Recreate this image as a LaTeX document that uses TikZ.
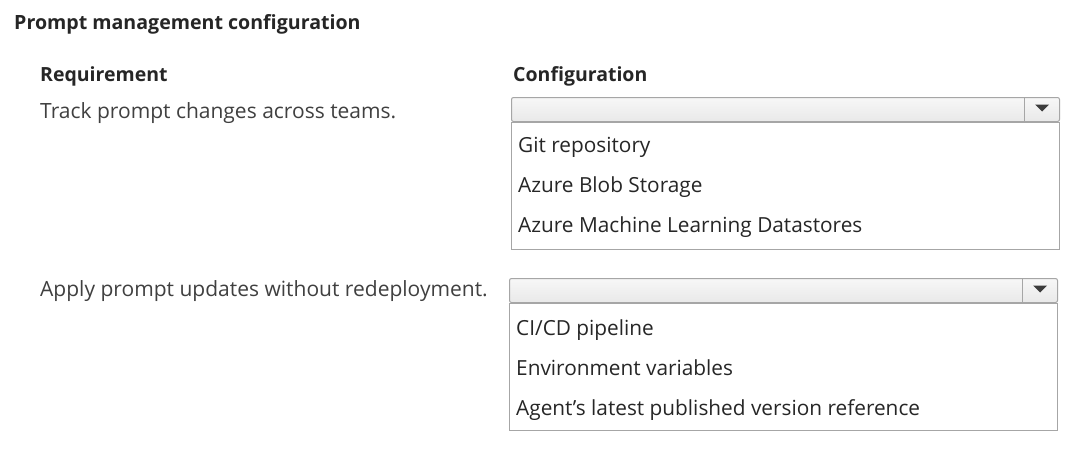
\documentclass[tikz,border=0pt]{standalone}
\usepackage{fontspec}
\setmainfont{Open Sans}
\usetikzlibrary{positioning}
\definecolor{textDark}{HTML}{262626}
\definecolor{textBody}{HTML}{404040}
\definecolor{boxLine}{HTML}{A6A6A6}
\definecolor{headTop}{HTML}{F7F7F7}
\definecolor{headBot}{HTML}{E9E9E9}
\definecolor{arrowGray}{HTML}{3C3C3C}

\begin{document}
\begin{tikzpicture}
[x=1pt,y=-1pt,
  titleText/.style={anchor=base west,inner sep=0pt,text=textDark,
    font=\fontsize{19.6}{23}\selectfont\bfseries},%
  headText/.style={anchor=base west,inner sep=0pt,text=textDark,
    font=\fontsize{19.5}{23}\selectfont\bfseries},%
  bodyText/.style={anchor=base west,inner sep=0pt,text=textBody,
    font=\fontsize{21}{24}\selectfont},%
  itemText/.style={anchor=base west,inner sep=0pt,text=textDark,
    font=\fontsize{20.8}{24}\selectfont},%
  dropHead/.style={anchor=north west,draw=boxLine,line width=1pt,
    rounded corners=2pt,top color=headTop,bottom color=headBot,
    minimum width=548pt,minimum height=24pt,inner sep=0pt},%
  dropList/.style={anchor=north west,draw=boxLine,line width=1pt,fill=white,
    minimum width=548pt,minimum height=127pt,inner sep=0pt},%
  sepLine/.style={-,draw=boxLine,line width=0.8pt}]
\useasboundingbox[fill=white] (0,0) rectangle (1075,451);
%% headings
\node (title) at (14,29) [titleText] {Prompt management configuration};
\node (req) at (40,81) [headText] {Requirement};
\node (conf) at (513,81) [headText] {Configuration};
%% requirements
\node (track) at (40,118) [bodyText] {Track prompt changes across teams.};
\node (apply) at (40,296) [bodyText] {Apply prompt updates without redeployment.};
%% drop-down boxes
\node (head1) at (511,97) [dropHead] {};
\node (list1) at (511,122) [dropList] {};
\node (head2) at (509,278) [dropHead] {};
\node (list2) at (509,303) [dropList] {};
\foreach \h/\x/\y in {1/1024/97, 2/1022/278}
{
  \draw[sepLine] (\x,\y) -- (\x,\y+24);
  \fill[arrowGray] (\x+18,\y+11) ++(-7,-3.5) -- ++(14,0) -- ++(-7,7) -- cycle;
}
%% options
\foreach \name/\x/\y/\label in {
  git/518/152/{Git repository}, blob/518/192/{Azure Blob Storage},
  aml/518/232/{Azure Machine Learning Datastores},
  cicd/516/335/{CI/CD pipeline}, env/516/375/{Environment variables},
  agent/516/415/{Agent's latest published version reference}}
{
  \node (\name) at (\x,\y) [itemText] {\label};
}
\end{tikzpicture}
\end{document}
